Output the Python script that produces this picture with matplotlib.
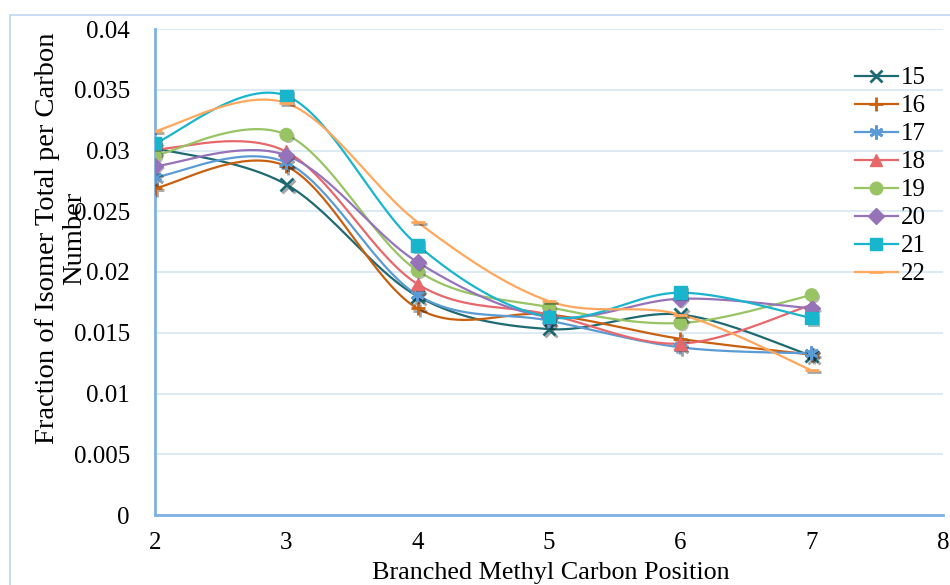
import numpy as np
import matplotlib
matplotlib.use("Agg")
import matplotlib.pyplot as plt
import matplotlib.patheffects as pe
from matplotlib.patches import Rectangle

plt.rcParams['font.family'] = ['Liberation Serif', 'DejaVu Serif']

positions = [2, 3, 4, 5, 6, 7]
series_names = ["15", "16", "17", "18", "19", "20", "21", "22"]
s15 = [0.0302, 0.0272, 0.0180, 0.0153, 0.0165, 0.0131]
s16 = [0.0269, 0.0287, 0.0170, 0.0165, 0.0145, 0.0132]
s17 = [0.0278, 0.0290, 0.0181, 0.0160, 0.0138, 0.0133]
s18 = [0.0301, 0.0299, 0.0190, 0.0165, 0.0141, 0.0173]
s19 = [0.0296, 0.0313, 0.0201, 0.0171, 0.0158, 0.0181]
s20 = [0.0287, 0.0296, 0.0208, 0.0163, 0.0178, 0.0170]
s21 = [0.0306, 0.0345, 0.0222, 0.0163, 0.0183, 0.0162]
s22 = [0.0316, 0.0339, 0.0241, 0.0176, 0.0165, 0.0119]
values = [s15, s16, s17, s18, s19, s20, s21, s22]

colors = ['#1E6A73', '#C8600F', '#5B9BD5', '#E8676B', '#98C463', '#9673B9', '#19B5CD', '#FFA75C']
markers = ['x', '+', (6, 2, 0), '^', 'o', 'D', 's', '_']
msizes = [9, 10, 10, 9, 9, 8, 9, 10]
filled_flags = [False, False, False, True, True, True, True, False]

yticks = [0, 0.005, 0.01, 0.015, 0.02, 0.025, 0.03, 0.035, 0.04]
ytick_labels = ["0", "0.005", "0.01", "0.015", "0.02", "0.025", "0.03", "0.035", "0.04"]
xticks = [2, 3, 4, 5, 6, 7, 8]


def smooth(xs, ys, n=40):
    xs = np.asarray(xs, float)
    ys = np.asarray(ys, float)
    P = np.column_stack([xs, ys])
    out = []
    for i in range(len(P) - 1):
        p0 = P[i - 1] if i > 0 else P[i]
        p1 = P[i]
        p2 = P[i + 1]
        p3 = P[i + 2] if i + 2 < len(P) else P[i + 1]
        c1 = p1 + (p2 - p0) / 6.0
        c2 = p2 - (p3 - p1) / 6.0
        t = np.linspace(0, 1, n)[:, None]
        seg = ((1 - t) ** 3) * p1 + 3 * ((1 - t) ** 2) * t * c1 + 3 * (1 - t) * t ** 2 * c2 + t ** 3 * p2
        out.append(seg if i == 0 else seg[1:])
    arr = np.vstack(out)
    return arr[:, 0], arr[:, 1]


fig = plt.figure(figsize=(9.5, 5.85), dpi=100)
ax = fig.add_axes([155 / 950, 1 - 515 / 585, (943 - 155) / 950, (515 - 29) / 585])

# chart border
fig.patches.append(Rectangle((10 / 950, -0.1), 1.2, 1 - 15 / 585 + 0.1, transform=fig.transFigure,
                             fill=False, edgecolor='#BDD7EE', linewidth=1.2))

handles = []
for i, (name, ys) in enumerate(zip(series_names, values)):
    sx, sy = smooth(positions, ys)
    ax.plot(sx, sy, color=colors[i], lw=1.6, zorder=3 + i * 0.1, solid_capstyle='round')
    filled = filled_flags[i]
    mew = 2.0 if not filled else 1.0
    ax.plot(positions, ys, linestyle='none', marker=markers[i], markersize=msizes[i],
            color=colors[i], markeredgecolor=colors[i], markeredgewidth=mew, zorder=4 + i * 0.1,
            path_effects=[pe.SimplePatchShadow(offset=(1.5, -1.5), alpha=0.35) if filled
                          else pe.SimpleLineShadow(offset=(1.5, -1.5), alpha=0.35), pe.Normal()])
    h, = ax.plot([], [], color=colors[i], lw=1.6, marker=markers[i], markersize=msizes[i],
                 markeredgecolor=colors[i], markeredgewidth=mew, label=name)
    handles.append(h)

ax.set_xlim(2, 8)
ax.set_ylim(0, 0.04)
ax.set_xticks(xticks)
ax.set_xticklabels([str(v) for v in xticks])
ax.set_yticks(yticks)
ax.set_yticklabels(ytick_labels)
ax.tick_params(axis='both', length=0, labelsize=18)
ax.tick_params(axis='y', pad=18)
ax.tick_params(axis='x', pad=12)
ax.grid(axis='y', color='#D6E6F5', lw=1.2)
ax.set_axisbelow(True)
for s in ['top', 'right']:
    ax.spines[s].set_visible(False)
for s in ['left', 'bottom']:
    ax.spines[s].set_color('#7EB1E3')
    ax.spines[s].set_linewidth(2)

leg = ax.legend(handles=handles, loc='upper left', bbox_to_anchor=(855 / 950, 1 - 67 / 585),
                bbox_transform=fig.transFigure, frameon=False, fontsize=18, handlelength=1.7,
                handletextpad=0.15, labelspacing=0.22, borderpad=0, borderaxespad=0)

fig.text(61 / 950, 1 - 238.5 / 585, "Fraction of Isomer Total per Carbon\nNumber", rotation=90,
         ha='center', va='center', multialignment='center', fontsize=20.5, linespacing=1.07)
fig.text(551 / 950, 1 - 573 / 585, "Branched Methyl Carbon Position", ha='center', va='center', fontsize=18.8)

fig.savefig("out.png", dpi=100)
